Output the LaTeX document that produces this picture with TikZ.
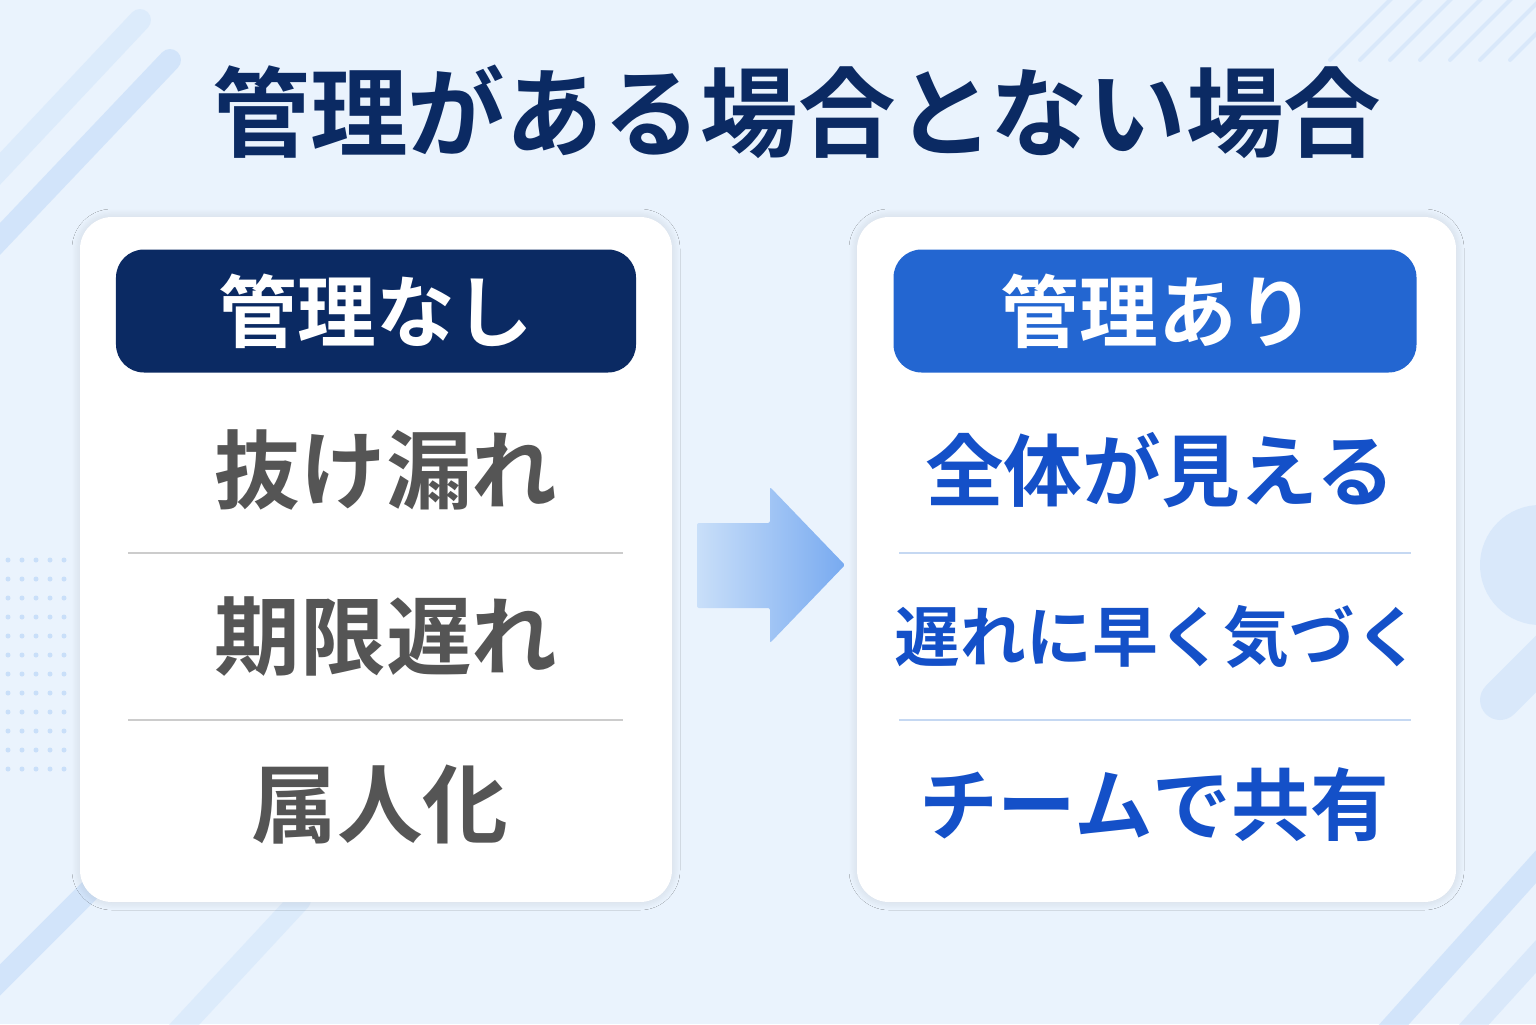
\documentclass[tikz,border=0pt]{standalone}
\usepackage{fontspec}
\newfontfamily\cjk{Noto Sans CJK JP}[BoldFont={Noto Sans CJK JP Bold}]
\usetikzlibrary{shadows.blur}
\definecolor{bg}{HTML}{EAF3FD}
\definecolor{navy}{HTML}{0B2A63}
\definecolor{hblue}{HTML}{2366D1}
\definecolor{iblue}{HTML}{1450C8}
\definecolor{igray}{HTML}{555555}
\definecolor{stripecol}{HTML}{C9DFF9}
\definecolor{divblue}{HTML}{C5D8F2}
\begin{document}
\begin{tikzpicture}[x=1bp,y=-1bp,
  card/.style={fill=white,rounded corners=32bp,blur shadow={shadow blur steps=8,shadow xshift=0bp,shadow yshift=0bp,shadow blur radius=8bp,shadow opacity=12}},
  head/.style={rounded corners=28bp},
  htext/.style={text=white,font=\cjk\bfseries\fontsize{79}{88}\selectfont},
  lt/.style={text=igray,font=\cjk\bfseries\fontsize{86}{96}\selectfont},
  rt/.style={text=iblue,font=\cjk\bfseries\fontsize{79}{88}\selectfont},
  deco/.style={line width=22bp,draw=stripecol,line cap=round,opacity=0.7}]
\useasboundingbox (0,0) rectangle (1536,1024);
\fill[bg] (0,0) rectangle (1536,1024);
\begin{scope}
\clip (0,0) rectangle (1536,1024);
\draw[deco] (-20,260) -- (170,60);
\draw[deco,opacity=0.4] (-20,190) -- (140,20);
\draw[deco] (-20,1000) -- (210,770);
\draw[deco,opacity=0.4] (170,1040) -- (300,900);
\draw[deco] (1380,1040) -- (1560,840);
\draw[deco,opacity=0.5] (1460,1040) -- (1560,930);
\draw[deco,line width=40bp,opacity=0.5] (1500,700) -- (1560,640);
\foreach \i in {0,...,6}{\draw[deco,line width=4bp,opacity=0.5] (1330+\i*30,60) -- (1400+\i*30,-10);}
\fill[stripecol,opacity=0.5] (1540,565) circle (60);
\foreach \r in {0,...,11}{\foreach \c in {0,...,4}{\fill[stripecol] (8+\c*14,560+\r*19) circle (2.5);}}
\end{scope}
\node[font=\cjk\bfseries\fontsize{98}{108}\selectfont,text=navy] (title) at (797,112) {管理がある場合とない場合};
\fill[card] (80,217) rectangle (672,902);
\node[head,fill=navy,minimum width=520bp,minimum height=123bp] (lh) at (376,311) {};
\node[htext] (lht) at (376,311) {管理なし};
\node[lt] (l1) at (386,470) {抜け漏れ};
\node[lt] (l2) at (386,637) {期限遅れ};
\node[lt] (l3) at (380,805) {属人化};
\draw[gray!40,line width=2.5bp] (128,553) -- (623,553);
\draw[gray!40,line width=2.5bp] (128,720) -- (623,720);
\fill[card] (857,217) rectangle (1456,902);
\node[head,fill=hblue,minimum width=523bp,minimum height=123bp] (rh) at (1155,311) {};
\node[htext] (rht) at (1158,311) {管理あり};
\node[rt] (r1) at (1160,470) {全体が見える};
\node[rt,font=\cjk\bfseries\fontsize{66}{76}\selectfont] (r2) at (1158,637) {遅れに早く気づく};
\node[rt] (r3) at (1154,805) {チームで共有};
\draw[divblue,line width=2.5bp] (899,553) -- (1411,553);
\draw[divblue,line width=2.5bp] (899,720) -- (1411,720);
\shade[left color=stripecol,right color={rgb,255:red,120;green,170;blue,240},rounded corners=2bp]
 (697,523) -- (770,523) -- (770,487) -- (845,565) -- (770,643) -- (770,608) -- (697,608) -- cycle;
\end{tikzpicture}
\end{document}
